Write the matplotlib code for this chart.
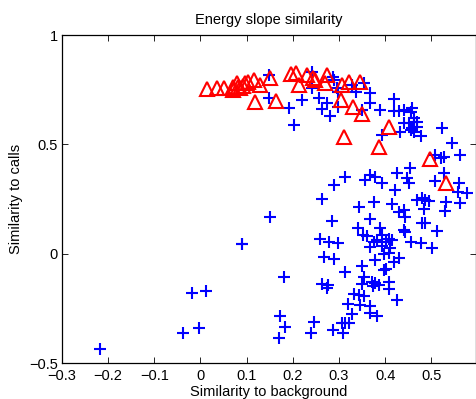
import matplotlib
matplotlib.use("Agg")
import matplotlib.pyplot as plt

plt.rcParams['font.family'] = ['Liberation Sans', 'DejaVu Sans']

# similarity of each call/background segment (x: to background, y: to calls)
blue_x = [-0.218, -0.037, -0.004, -0.019, 0.012, 0.091, 0.151, 0.090, 0.182, 0.173,
          0.184, 0.171, 0.247, 0.240, 0.287, 0.307, 0.314, 0.321, 0.309, 0.328,
          0.319, 0.332, 0.343, 0.354, 0.346, 0.367, 0.368, 0.383, 0.426, 0.314,
          0.350, 0.354, 0.350, 0.372, 0.379, 0.386, 0.374, 0.408, 0.409, 0.379,
          0.403, 0.419, 0.431, 0.267, 0.290, 0.260, 0.278, 0.299, 0.284, 0.263,
          0.290, 0.314, 0.357, 0.368, 0.379, 0.394, 0.343, 0.375, 0.367, 0.341,
          0.352, 0.361, 0.390, 0.394, 0.375, 0.383, 0.368, 0.394, 0.408, 0.411,
          0.415, 0.397, 0.415, 0.430, 0.440, 0.444, 0.440, 0.444, 0.455, 0.477,
          0.502, 0.513, 0.480, 0.487, 0.469, 0.480, 0.487, 0.495, 0.484, 0.531,
          0.529, 0.563, 0.578, 0.558, 0.560, 0.426, 0.453, 0.448, 0.451, 0.422,
          0.509, 0.527, 0.149, 0.148, 0.191, 0.202, 0.220, 0.242, 0.241, 0.257,
          0.263, 0.274, 0.281, 0.288, 0.296, 0.299, 0.328, 0.336, 0.354, 0.368,
          0.368, 0.350, 0.390, 0.420, 0.419, 0.430, 0.440, 0.455, 0.440, 0.451,
          0.462, 0.469, 0.433, 0.455, 0.462, 0.477, 0.394, 0.524, 0.545, 0.563,
          0.509, 0.527, 0.263, 0.276, 0.274, 0.520, 0.289, 0.299, 0.462, 0.459,
          0.459, 0.469, 0.408, 0.397, 0.401]
blue_y = [-0.437, -0.364, -0.341, -0.178, -0.171, 0.043, 0.169, 0.044, -0.105, -0.283,
          -0.334, -0.384, -0.311, -0.361, -0.349, -0.318, -0.318, -0.318, -0.364, -0.276,
          -0.230, -0.186, -0.189, -0.193, -0.235, -0.239, -0.273, -0.285, -0.212, -0.082,
          -0.056, -0.105, -0.139, -0.128, -0.135, -0.143, -0.148, -0.128, -0.161, -0.029,
          -0.071, -0.037, -0.021, -0.014, -0.024, 0.067, 0.055, 0.048, 0.150, 0.250,
          0.314, 0.352, 0.337, 0.360, 0.352, 0.325, 0.215, 0.238, 0.157, 0.119,
          0.086, 0.081, 0.116, 0.086, 0.055, 0.063, 0.029, 0.035, 0.066, 0.025,
          0.063, -0.003, 0.226, 0.192, 0.200, 0.166, 0.108, 0.101, 0.055, 0.050,
          0.027, 0.105, 0.139, 0.139, 0.246, 0.253, 0.246, 0.242, 0.203, 0.238,
          0.197, 0.230, 0.276, 0.284, 0.325, 0.370, 0.390, 0.345, 0.325, 0.291,
          0.334, 0.368, 0.817, 0.711, 0.665, 0.588, 0.703, 0.832, 0.756, 0.711,
          0.660, 0.688, 0.630, 0.809, 0.756, 0.672, 0.771, 0.741, 0.779, 0.733,
          0.690, 0.657, 0.657, 0.706, 0.652, 0.652, 0.657, 0.649, 0.599, 0.596,
          0.604, 0.604, 0.558, 0.566, 0.558, 0.538, 0.543, 0.573, 0.505, 0.451,
          0.451, 0.441, -0.139, -0.143, -0.158, 0.438, 0.794, 0.739, 0.619, 0.665,
          0.573, 0.581, 0.002, -0.075, 0.055]

red_x = [0.014, 0.036, 0.050, 0.071, 0.079, 0.086, 0.097, 0.104, 0.115, 0.130,
         0.151, 0.119, 0.164, 0.197, 0.208, 0.213, 0.231, 0.249, 0.274, 0.270,
         0.307, 0.321, 0.346, 0.305, 0.331, 0.350, 0.310, 0.386, 0.409, 0.498,
         0.532, 0.071, 0.082, 0.093, 0.244]
red_y = [0.752, 0.756, 0.756, 0.764, 0.779, 0.756, 0.779, 0.786, 0.794, 0.771,
         0.802, 0.695, 0.700, 0.822, 0.825, 0.771, 0.817, 0.794, 0.817, 0.779,
         0.771, 0.786, 0.786, 0.703, 0.672, 0.637, 0.535, 0.487, 0.581, 0.433,
         0.325, 0.748, 0.762, 0.767, 0.803]

x_ticks = [-0.3, -0.2, -0.1, 0, 0.1, 0.2, 0.3, 0.4, 0.5]
x_labels = ['\u22120.3', '\u22120.2', '\u22120.1', '0', '0.1', '0.2', '0.3', '0.4', '0.5']
y_ticks = [-0.5, 0, 0.5, 1]
y_labels = ['\u22120.5', '0', '0.5', '1']

fig = plt.figure(figsize=(4.77, 3.99), dpi=100)
ax = fig.add_axes([0.130, 0.090, 0.868, 0.822])

ax.plot(blue_x, blue_y, linestyle='none', marker='+', color='blue',
        markersize=8.5, markeredgewidth=1.5)
ax.plot(red_x, red_y, linestyle='none', marker='^', color='red',
        markerfacecolor='none', markersize=10.5, markeredgewidth=1.5)

ax.set_xlim(-0.3, 0.597)
ax.set_ylim(-0.5, 1)
ax.set_xticks(x_ticks)
ax.set_xticklabels(x_labels)
ax.set_yticks(y_ticks)
ax.set_yticklabels(y_labels)
ax.tick_params(direction='in', top=True, right=True, labelsize=10.5,
               length=4, width=0.6)
ax.tick_params(axis='x', pad=4)
ax.tick_params(axis='y', pad=3)
for s in ax.spines.values():
    s.set_linewidth(0.9)

ax.set_xlabel('Similarity to background', fontsize=10.5, labelpad=2)
ax.set_ylabel('Similarity to calls', fontsize=10.5, labelpad=4)
ax.set_title('Energy slope similarity', fontsize=10.5, pad=8)

fig.savefig('out.png', dpi=100)
